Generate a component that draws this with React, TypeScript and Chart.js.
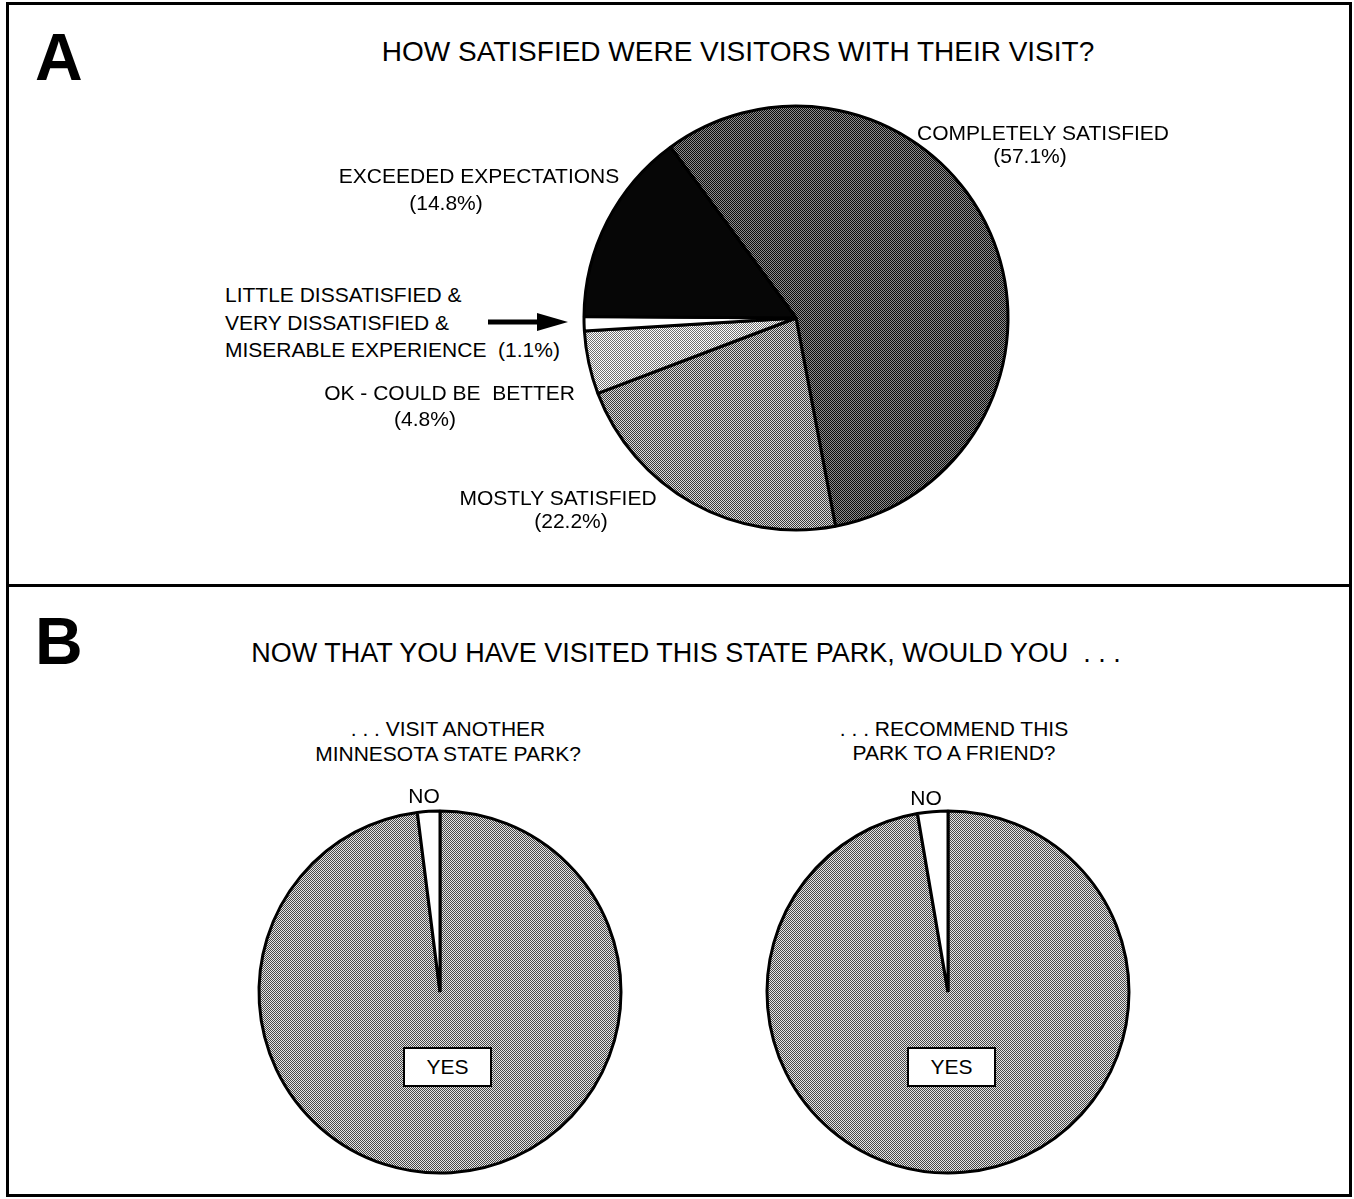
import React, { useEffect, useRef } from "react";
import { Chart, registerables } from "chart.js";

Chart.register(...registerables);

// ---------- DATA ----------
const satisfactionLabels = [
  "COMPLETELY SATISFIED",
  "MOSTLY SATISFIED",
  "OK - COULD BE BETTER",
  "LITTLE DISSATISFIED & VERY DISSATISFIED & MISERABLE EXPERIENCE",
  "EXCEEDED EXPECTATIONS",
];
const satisfactionValues = [57.1, 22.2, 4.8, 1.1, 14.8];

const yesNoLabels = ["YES", "NO"];
const visitAnotherValues = [98.0, 2.0];
const recommendValues = [97.3, 2.7];

// ---------- STYLES ----------
type Fill = { a: string; b?: string };
const satisfactionFills: Fill[] = [
  { a: "#0a0a0a", b: "#8c8c8c" },
  { a: "#3a3a3a", b: "#dadada" },
  { a: "#707070", b: "#ffffff" },
  { a: "#ffffff" },
  { a: "#060606" },
];
const yesNoFills: Fill[] = [{ a: "#474747", b: "#e4e4e4" }, { a: "#ffffff" }];

const FONT = '"Liberation Sans", Arial, Helvetica, sans-serif';

function makeFill(f: Fill): string | CanvasPattern {
  if (!f.b) return f.a;
  const c = document.createElement("canvas");
  c.width = 2;
  c.height = 2;
  const g = c.getContext("2d")!;
  g.fillStyle = f.b;
  g.fillRect(0, 0, 2, 2);
  g.fillStyle = f.a;
  g.fillRect(0, 0, 1, 1);
  g.fillRect(1, 1, 1, 1);
  return g.createPattern(c, "repeat")!;
}

type PieProps = {
  labels: string[];
  values: number[];
  fills: Fill[];
  rotation: number;
  radius: number;
  size: number;
  cx: number;
  cy: number;
};

function Pie({ labels, values, fills, rotation, radius, size, cx, cy }: PieProps) {
  const ref = useRef<HTMLCanvasElement | null>(null);
  useEffect(() => {
    if (!ref.current) return;
    const chart = new Chart(ref.current, {
      type: "pie",
      data: {
        labels,
        datasets: [
          {
            data: values,
            backgroundColor: fills.map(makeFill) as any,
            borderColor: "#000",
            borderWidth: 3,
            hoverOffset: 0,
            offset: 0,
            radius,
          } as any,
        ],
      },
      options: {
        responsive: false,
        maintainAspectRatio: false,
        animation: false,
        rotation,
        layout: { padding: 0 },
        plugins: { legend: { display: false }, tooltip: { enabled: false }, title: { display: false } },
        events: [],
      },
    });
    return () => chart.destroy();
  }, []);
  return (
    <canvas
      ref={ref}
      width={size}
      height={size}
      style={{ position: "absolute", left: cx - size / 2, top: cy - size / 2, width: size, height: size }}
    />
  );
}

type TProps = { x: number; y: number; s?: number; a?: "left" | "center" | "right"; b?: boolean; children: React.ReactNode };
function T({ x, y, s = 21, a = "center", b = false, children }: TProps) {
  const style: React.CSSProperties = {
    position: "absolute",
    top: y - s / 2,
    lineHeight: s + "px",
    fontSize: s,
    fontFamily: FONT,
    fontWeight: b ? 700 : 400,
    whiteSpace: "pre",
    color: "#000",
    zIndex: 2,
  };
  if (a === "center") {
    style.left = x;
    style.transform = "translateX(-50%)";
  } else if (a === "left") {
    style.left = x;
  } else {
    style.right = 1354 - x;
  }
  return <div style={style}>{children}</div>;
}

function YesBox({ x, y }: { x: number; y: number }) {
  return (
    <div
      style={{
        position: "absolute",
        left: x,
        top: y,
        width: 89,
        height: 40,
        border: "2px solid #000",
        boxSizing: "border-box",
        background: "#fff",
        fontFamily: FONT,
        fontSize: 21,
        lineHeight: "36px",
        textAlign: "center",
        zIndex: 3,
      }}
    >
      YES
    </div>
  );
}

export default function App() {
  return (
    <div
      style={{
        position: "absolute",
        left: 0,
        top: 0,
        width: 1354,
        height: 1199,
        overflow: "hidden",
        background: "#fff",
      }}
    >
      {/* frame */}
      <div
        style={{
          position: "absolute",
          left: 6,
          top: 2,
          width: 1346,
          height: 1195,
          border: "3px solid #000",
          boxSizing: "border-box",
        }}
      />
      <div style={{ position: "absolute", left: 6, top: 584, width: 1346, height: 3, background: "#000" }} />

      {/* Panel A */}
      <T x={35} y={57} s={66} a="left" b>
        A
      </T>
      <T x={738} y={52} s={28}>
        HOW SATISFIED WERE VISITORS WITH THEIR VISIT?
      </T>
      <Pie
        labels={satisfactionLabels}
        values={satisfactionValues}
        fills={satisfactionFills}
        rotation={-36.3}
        radius={212}
        size={460}
        cx={796}
        cy={318}
      />
      <T x={1043} y={132}>COMPLETELY SATISFIED</T>
      <T x={1030} y={155}>(57.1%)</T>
      <T x={479} y={175}>EXCEEDED EXPECTATIONS</T>
      <T x={446} y={202}>(14.8%)</T>
      <T x={225} y={294} a="left">
        LITTLE DISSATISFIED &amp;
      </T>
      <T x={225} y={322} a="left">
        VERY DISSATISFIED &amp;
      </T>
      <T x={225} y={349} a="left">
        {"MISERABLE EXPERIENCE  (1.1%)"}
      </T>
      <svg
        width={90}
        height={24}
        style={{ position: "absolute", left: 485, top: 310, zIndex: 2 }}
      >
        <rect x={3} y={9.5} width={52} height={5} fill="#000" />
        <polygon points="52,3 83,12 52,21" fill="#000" />
      </svg>
      <T x={575} y={392} a="right">
        {"OK - COULD BE  BETTER"}
      </T>
      <T x={425} y={418}>(4.8%)</T>
      <T x={558} y={497}>MOSTLY SATISFIED</T>
      <T x={571} y={520}>(22.2%)</T>

      {/* Panel B */}
      <T x={35} y={641} s={66} a="left" b>
        B
      </T>
      <T x={686} y={653} s={27}>
        {"NOW THAT YOU HAVE VISITED THIS STATE PARK, WOULD YOU  . . ."}
      </T>

      <T x={448} y={728}>. . . VISIT ANOTHER</T>
      <T x={448} y={753}>MINNESOTA STATE PARK?</T>
      <T x={424} y={795}>NO</T>
      <Pie
        labels={yesNoLabels}
        values={visitAnotherValues}
        fills={yesNoFills}
        rotation={0}
        radius={181}
        size={400}
        cx={440}
        cy={992}
      />
      <YesBox x={403} y={1047} />

      <T x={954} y={728}>. . . RECOMMEND THIS</T>
      <T x={954} y={752}>PARK TO A FRIEND?</T>
      <T x={926} y={797}>NO</T>
      <Pie
        labels={yesNoLabels}
        values={recommendValues}
        fills={yesNoFills}
        rotation={0}
        radius={181}
        size={400}
        cx={948}
        cy={992}
      />
      <YesBox x={907} y={1047} />
    </div>
  );
}
